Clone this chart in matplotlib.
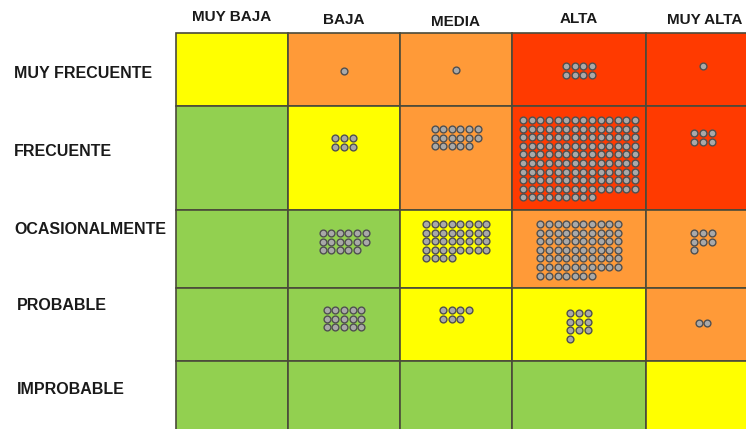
import numpy as np
import matplotlib
matplotlib.use("Agg")
import matplotlib.pyplot as plt
from matplotlib.patches import Rectangle

# probability (rows, top to bottom) vs impact (columns)
impacto = ["MUY BAJA", "BAJA", "MEDIA", "ALTA", "MUY ALTA"]
probabilidad = ["MUY FRECUENTE", "FRECUENTE", "OCASIONALMENTE", "PROBABLE", "IMPROBABLE"]

# risk level per cell: 0 low (green), 1 medium (yellow), 2 high (orange), 3 extreme (red)
nivel = [
    [1, 2, 2, 3, 3],
    [0, 1, 2, 3, 3],
    [0, 0, 1, 2, 2],
    [0, 0, 1, 1, 2],
    [0, 0, 0, 0, 1],
]

# number of risks (dots) counted in each cell
conteo = [
    [0, 1, 1, 8, 1],
    [0, 6, 17, 135, 6],
    [0, 17, 36, 67, 7],
    [0, 15, 7, 10, 2],
    [0, 0, 0, 0, 0],
]

colores = ["#92D050", "#FFFF00", "#FF9A38", "#FF3A00"]

# layout in pixels (image cropped on the right and bottom)
col_edges = [176, 288, 400, 512, 646, 762]
row_edges = [33, 106, 210, 288, 361, 445]
# dots per row of each cluster
ncols = [
    [1, 1, 1, 4, 1],
    [3, 3, 6, 14, 3],
    [6, 6, 8, 10, 3],
    [5, 5, 4, 3, 2],
    [1, 1, 1, 1, 1],
]
# cluster top offset from cell top
top_off = [
    [38, 38, 37, 33, 33],
    [32, 32, 23, 14, 27],
    [23, 23, 14, 14, 23],
    [22, 22, 22, 25, 35],
    [30, 30, 30, 30, 30],
]
dx, dy = 8.6, 8.6

fig = plt.figure(figsize=(7.46, 4.29), dpi=100)
ax = fig.add_axes([0, 0, 1, 1])
ax.set_xlim(0, 746)
ax.set_ylim(429, 0)
ax.axis("off")

for i in range(5):
    for j in range(5):
        x0, x1 = col_edges[j], col_edges[j + 1]
        y0, y1 = row_edges[i], row_edges[i + 1]
        ax.add_patch(Rectangle((x0, y0), x1 - x0, y1 - y0,
                               facecolor=colores[nivel[i][j]],
                               edgecolor="#4a4a3a", linewidth=1.2, zorder=1))
        n = conteo[i][j]
        if n == 0:
            continue
        nc = min(ncols[i][j], n)
        cx = (x0 + min(x1, 760)) / 2
        if j == 4:
            cx = 703
        idx = np.arange(n)
        px = cx - (nc - 1) * dx / 2 + (idx % nc) * dx
        py = y0 + top_off[i][j] + (idx // nc) * dy
        ax.scatter(px, py, s=24, facecolor="#A9A9A9", edgecolor="#505050",
                   linewidth=1.0, zorder=3)

font = ["Liberation Sans", "DejaVu Sans"]
head_y = [17, 20, 22, 19, 20]
for j, lab in enumerate(impacto):
    cx = (col_edges[j] + col_edges[j + 1]) / 2
    if j == 4:
        cx = 705
    ax.text(cx, head_y[j], lab, ha="center", va="center", fontsize=11,
            fontweight="bold", family=font, color="#1a1a1a")

row_y = [73, 151, 229, 305, 390]
row_x = [14, 14, 14, 17, 17]
for i, lab in enumerate(probabilidad):
    ax.text(row_x[i], row_y[i], lab, ha="left", va="center", fontsize=11.5,
            fontweight="bold", family=font, color="#1a1a1a")

fig.savefig("out.png", dpi=100)
